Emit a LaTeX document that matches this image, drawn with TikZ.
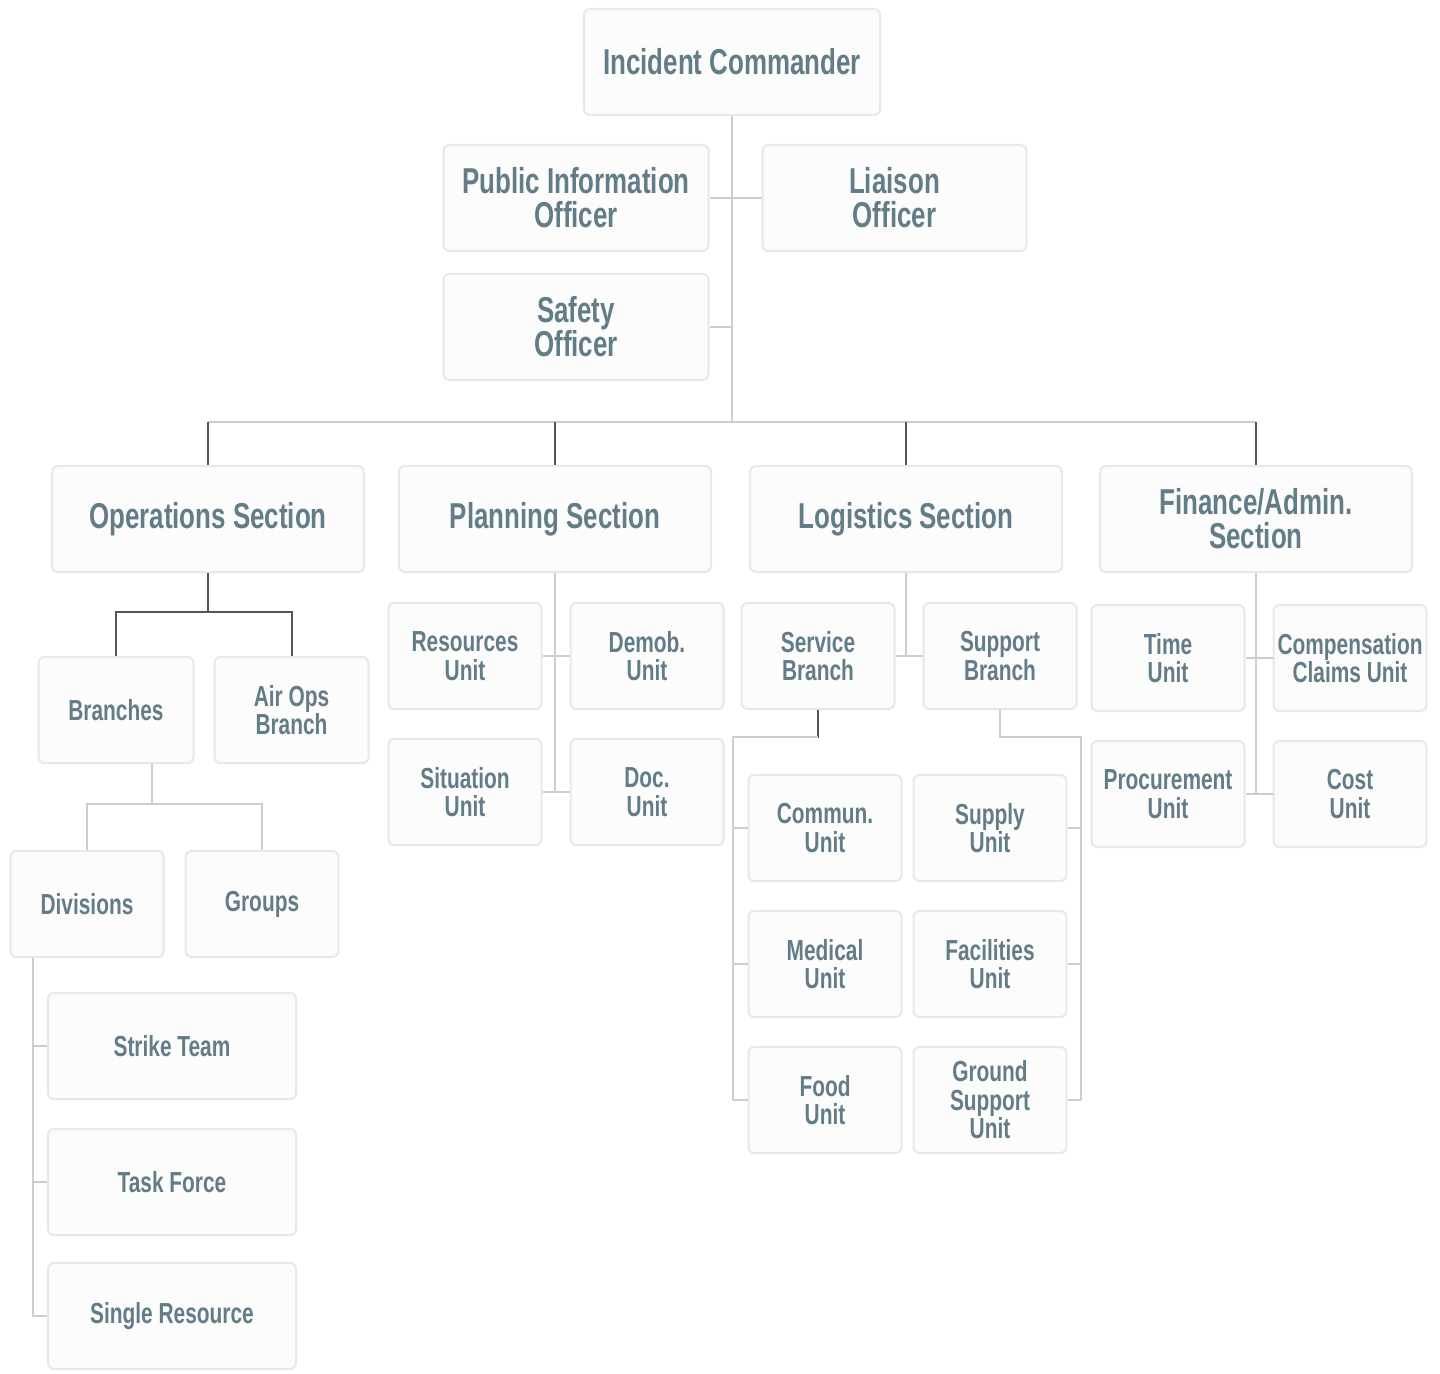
\documentclass[tikz,border=0pt]{standalone}
\usepackage{fontspec}
\usepackage{tikz}
\usetikzlibrary{positioning}
\newfontfamily\orgfont{Liberation Sans}[FakeStretch=0.72]
\definecolor{orgtext}{RGB}{98,124,136}
\definecolor{orgline}{RGB}{205,205,205}
\definecolor{orgdark}{RGB}{85,85,85}
\definecolor{orgedge}{RGB}{232,232,232}

\begin{document}
\begin{tikzpicture}[x=0.5pt, y=-0.5pt,
  box/.style={draw=orgedge, fill=black!1, line width=1pt, rounded corners=3pt,
    align=center, text=orgtext, inner sep=2pt, minimum height=53pt},
  big/.style={box, minimum width=156pt, font=\orgfont\bfseries\fontsize{18}{17}\selectfont},
  unit/.style={box, minimum width=76.5pt, font=\orgfont\bfseries\fontsize{14.5}{14.2}\selectfont},
  wide/.style={unit, minimum width=124pt},
  link/.style={draw=orgline, line width=1pt},
  dlink/.style={draw=orgdark, line width=1pt}
]
  \useasboundingbox (0,0) rectangle (1440,1374);

  \node[big, minimum width=148pt] (ic) at (732,62) {Incident Commander};
  \node[big, minimum width=132.5pt] (pio) at (576,198) {Public Information\\Officer};
  \node[big, minimum width=132pt, right=26pt of pio] (liaison) {Liaison\\Officer};
  \node[big, minimum width=132.5pt, below=10.5pt of pio] (safety) {Safety\\Officer};

  \node[big] (ops) at (208,519) {Operations Section};
  \node[big, right=16.5pt of ops] (planning) {Planning Section};
  \node[big, right=18.5pt of planning] (logistics) {Logistics Section};
  \node[big, right=18pt of logistics] (finance) {Finance/Admin.\\Section};

  \node[unit, minimum width=77.5pt] (branches) at (116,710) {Branches};
  \node[unit, minimum width=77pt, right=9.5pt of branches] (airops) {Air Ops\\Branch};
  \node[unit] (divisions) at (87,904) {Divisions};
  \node[unit, right=10pt of divisions] (groups) {Groups};
  \node[wide] (strike) at (172,1046) {Strike Team};
  \node[wide, below=14pt of strike] (taskforce) {Task Force};
  \node[wide, below=13pt of taskforce] (single) {Single Resource};

  \node[unit] (resources) at (465,656) {Resources\\Unit};
  \node[unit, right=13.5pt of resources] (demob) {Demob.\\Unit};
  \node[unit, below=14pt of resources] (situation) {Situation\\Unit};
  \node[unit, below=14pt of demob] (doc) {Doc.\\Unit};

  \node[unit] (service) at (818,656) {Service\\Branch};
  \node[unit, right=13.5pt of service] (support) {Support\\Branch};
  \node[unit] (commun) at (825,828) {Commun.\\Unit};
  \node[unit, right=5pt of commun] (supply) {Supply\\Unit};
  \node[unit, below=14pt of commun] (medical) {Medical\\Unit};
  \node[unit, below=14pt of supply] (facilities) {Facilities\\Unit};
  \node[unit, below=14pt of medical] (food) {Food\\Unit};
  \node[unit, below=14pt of facilities] (ground) {Ground\\Support\\Unit};

  \node[unit] (time) at (1168,658) {Time\\Unit};
  \node[unit, right=13.5pt of time] (comp) {Compensation\\Claims Unit};
  \node[unit, below=14pt of time] (procurement) {Procurement\\Unit};
  \node[unit, below=14pt of comp] (cost) {Cost\\Unit};

  \coordinate (hub) at (ic.south |- 0,422);
  \draw[link] (ic.south) -- (hub);
  \draw[link] (pio.east) -- (liaison.west);
  \draw[link] (safety.east) -- (safety.east -| ic.south);
  \draw[link] (ops.north |- hub) -- (finance.north |- hub);
  \foreach \sec in {ops, planning, logistics, finance}
    \draw[dlink] (\sec.north) -- (\sec.north |- hub);

  \coordinate (opsj) at ([yshift=-19.5pt]ops.south);
  \draw[dlink] (ops.south) -- (opsj);
  \draw[dlink] (branches.north) |- (opsj) -| (airops.north);
  \coordinate (brj) at ([xshift=18pt, yshift=-20pt]branches.south);
  \draw[link] ([xshift=18pt]branches.south) -- (brj);
  \draw[link] (divisions.north) |- (brj) -| (groups.north);
  \coordinate (dvx) at ([xshift=11.5pt]divisions.south west);
  \draw[link] (dvx) |- (single.west);
  \foreach \res in {strike, taskforce}
    \draw[link] (\res.west) -- (\res.west -| dvx);

  \draw[link] (planning.south) -- (planning.south |- situation.east);
  \draw[link] (resources.east) -- (demob.west);
  \draw[link] (situation.east) -- (doc.west);

  \draw[link] (logistics.south) -- (logistics.south |- service.east);
  \draw[link] (service.east) -- (support.west);
  \coordinate (svj) at ([yshift=-13.5pt]service.south);
  \coordinate (svx) at ([xshift=-7.5pt]commun.west);
  \draw[dlink] (service.south) -- (svj) -- ++(-24pt,0);
  \draw[link] (svj) -| (svx |- food.west);
  \foreach \u in {commun, medical, food}
    \draw[link] (\u.west) -- (\u.west -| svx);
  \coordinate (spj) at ([yshift=-13.5pt]support.south);
  \coordinate (spx) at ([xshift=6.5pt]supply.east);
  \draw[link] (support.south) -- (spj) -| (spx |- ground.east);
  \foreach \u in {supply, facilities, ground}
    \draw[link] (\u.east) -- (\u.east -| spx);

  \draw[link] (finance.south) -- (finance.south |- procurement.east);
  \draw[link] (time.east) -- (comp.west);
  \draw[link] (procurement.east) -- (cost.west);
\end{tikzpicture}
\end{document}
